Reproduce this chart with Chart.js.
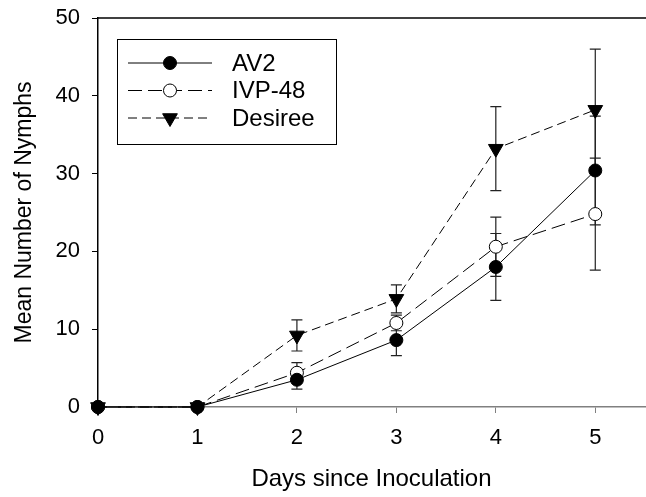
<!DOCTYPE html>
<html lang="en">
<head>
  <meta charset="UTF-8" />
  <title>Mean Number of Nymphs</title>
  <script src="https://cdn.jsdelivr.net/npm/chart.js"></script>
  <style>
    body {
      margin: 0;
      background: #fff;
    }
    #wrap {
      width: 646px;
      height: 497px;
      position: relative;
    }
  </style>
</head>
<body>
  <div id="wrap">
    <canvas id="nymphChart"></canvas>
  </div>

  <script>
    // values
    const days = [0, 1, 2, 3, 4, 5];
    const av2 = [0, 0, 3.5, 8.6, 18.0, 30.4];
    const av2Err = [0, 0, 1.2, 2.0, 4.3, 7.0];
    const ivp48 = [0, 0, 4.4, 10.8, 20.6, 24.8];
    const ivp48Err = [0, 0, 1.3, 1.0, 3.8, 7.2];
    const desiree = [0, 0, 9.2, 13.9, 33.2, 38.2];
    const desireeErr = [0, 0, 2.0, 1.8, 5.4, 7.8];
    const yTicks = [0, 10, 20, 30, 40, 50];

    const FONT = "'Liberation Sans', Arial, sans-serif";

    function toPoints(ys) {
      return days.map((d, i) => ({ x: d, y: ys[i] }));
    }

    const datasets = [
      {
        label: 'AV2',
        data: toPoints(av2),
        errors: av2Err,
        borderColor: '#000',
        borderWidth: 1,
        borderDash: [],
        pointStyle: 'circle',
        pointRadius: 6.5,
        pointBackgroundColor: '#000',
        pointBorderColor: '#000',
        pointBorderWidth: 1,
        pointRotation: 0
      },
      {
        label: 'IVP-48',
        data: toPoints(ivp48),
        errors: ivp48Err,
        borderColor: '#000',
        borderWidth: 1,
        borderDash: [14, 6],
        pointStyle: 'circle',
        pointRadius: 6.5,
        pointBackgroundColor: '#fff',
        pointBorderColor: '#000',
        pointBorderWidth: 1,
        pointRotation: 0
      },
      {
        label: 'Desiree',
        data: toPoints(desiree),
        errors: desireeErr,
        borderColor: '#000',
        borderWidth: 1,
        borderDash: [9, 5],
        pointStyle: 'triangle',
        pointRadius: 8.5,
        pointBackgroundColor: '#000',
        pointBorderColor: '#000',
        pointBorderWidth: 1,
        pointRotation: 180
      }
    ];
    datasets.forEach(ds => {
      ds.fill = false;
      ds.tension = 0;
      ds.clip = false;
    });

    // error bars drawn under the lines
    const errorBars = {
      id: 'errorBars',
      beforeDatasetsDraw(chart) {
        const ctx = chart.ctx;
        const xs = chart.scales.x, ys = chart.scales.y;
        ctx.save();
        ctx.strokeStyle = '#222';
        ctx.lineWidth = 1.2;
        chart.data.datasets.forEach(ds => {
          ds.data.forEach((p, i) => {
            const e = ds.errors[i];
            if (!e) return;
            const px = xs.getPixelForValue(p.x);
            const top = ys.getPixelForValue(p.y + e);
            const bot = ys.getPixelForValue(p.y - e);
            ctx.beginPath();
            ctx.moveTo(px, top);
            ctx.lineTo(px, bot);
            ctx.moveTo(px - 5.5, top);
            ctx.lineTo(px + 5.5, top);
            ctx.moveTo(px - 5.5, bot);
            ctx.lineTo(px + 5.5, bot);
            ctx.stroke();
          });
        });
        ctx.restore();
      }
    };

    // top frame line + boxed legend with line + marker samples
    const boxLegend = {
      id: 'boxLegend',
      afterDraw(chart) {
        const ctx = chart.ctx;
        const area = chart.chartArea;
        ctx.save();
        ctx.strokeStyle = '#000';
        ctx.lineWidth = 1.5;
        ctx.beginPath();
        ctx.moveTo(area.left, area.top);
        ctx.lineTo(chart.width, area.top);
        ctx.stroke();

        const left = 117, top = 39, w = 219, h = 105;
        ctx.lineWidth = 1;
        ctx.strokeRect(left + 0.5, top + 0.5, w, h);
        ctx.font = '24px ' + FONT;
        ctx.textBaseline = 'middle';
        ctx.fillStyle = '#000';
        chart.data.datasets.forEach((ds, i) => {
          const y = top + 24 + i * 27.5;
          ctx.setLineDash(ds.borderDash);
          ctx.beginPath();
          ctx.moveTo(left + 11, y);
          ctx.lineTo(left + 95, y);
          ctx.stroke();
          ctx.setLineDash([]);
          ctx.fillStyle = ds.pointBackgroundColor;
          ctx.strokeStyle = ds.pointBorderColor;
          Chart.helpers.drawPoint(ctx, {
            pointStyle: ds.pointStyle,
            radius: ds.pointRadius,
            rotation: ds.pointRotation,
            borderWidth: ds.pointBorderWidth
          }, left + 53, y);
          ctx.fillStyle = '#000';
          ctx.strokeStyle = '#000';
          ctx.fillText(ds.label, left + 115, y + 1);
        });
        ctx.restore();
      }
    };

    const ctx = document.getElementById('nymphChart').getContext('2d');
    new Chart(ctx, {
      type: 'line',
      data: { datasets: datasets },
      plugins: [errorBars, boxLegend],
      options: {
        responsive: true,
        maintainAspectRatio: false,
        animation: false,
        layout: { autoPadding: false, padding: { top: 18, right: 1, left: 0, bottom: 0 } },
        plugins: {
          legend: { display: false },
          tooltip: { enabled: false }
        },
        scales: {
          x: {
            type: 'linear',
            min: 0,
            max: 5.5,
            afterFit(scale) {
              scale.height = 90;
              scale.paddingLeft = 0;
              scale.paddingRight = 0;
            },
            ticks: {
              stepSize: 1,
              includeBounds: false,
              padding: 12,
              color: '#000',
              font: { family: FONT, size: 22 }
            },
            grid: {
              display: true,
              drawOnChartArea: false,
              drawTicks: true,
              tickLength: 6,
              color: '#808080'
            },
            border: { display: true, color: '#808080', width: 1.5 },
            title: {
              display: true,
              text: 'Days since Inoculation',
              color: '#000',
              font: { family: FONT, size: 24 },
              padding: { top: 0, bottom: 3 }
            }
          },
          y: {
            min: 0,
            max: 50,
            afterFit(scale) {
              scale.width = 98;
              scale.paddingTop = 0;
              scale.paddingBottom = 0;
            },
            afterBuildTicks(scale) {
              scale.ticks = yTicks.map(v => ({ value: v }));
            },
            ticks: {
              padding: 12,
              color: '#000',
              font: { family: FONT, size: 22 }
            },
            grid: {
              display: true,
              drawOnChartArea: false,
              drawTicks: true,
              tickLength: 6,
              color: '#000'
            },
            border: { display: true, color: '#000', width: 1.5 },
            title: {
              display: true,
              text: 'Mean Number of Nymphs',
              color: '#000',
              font: { family: FONT, size: 23 },
              padding: { top: 11, bottom: 0 }
            }
          }
        }
      }
    });
  </script>
</body>
</html>
